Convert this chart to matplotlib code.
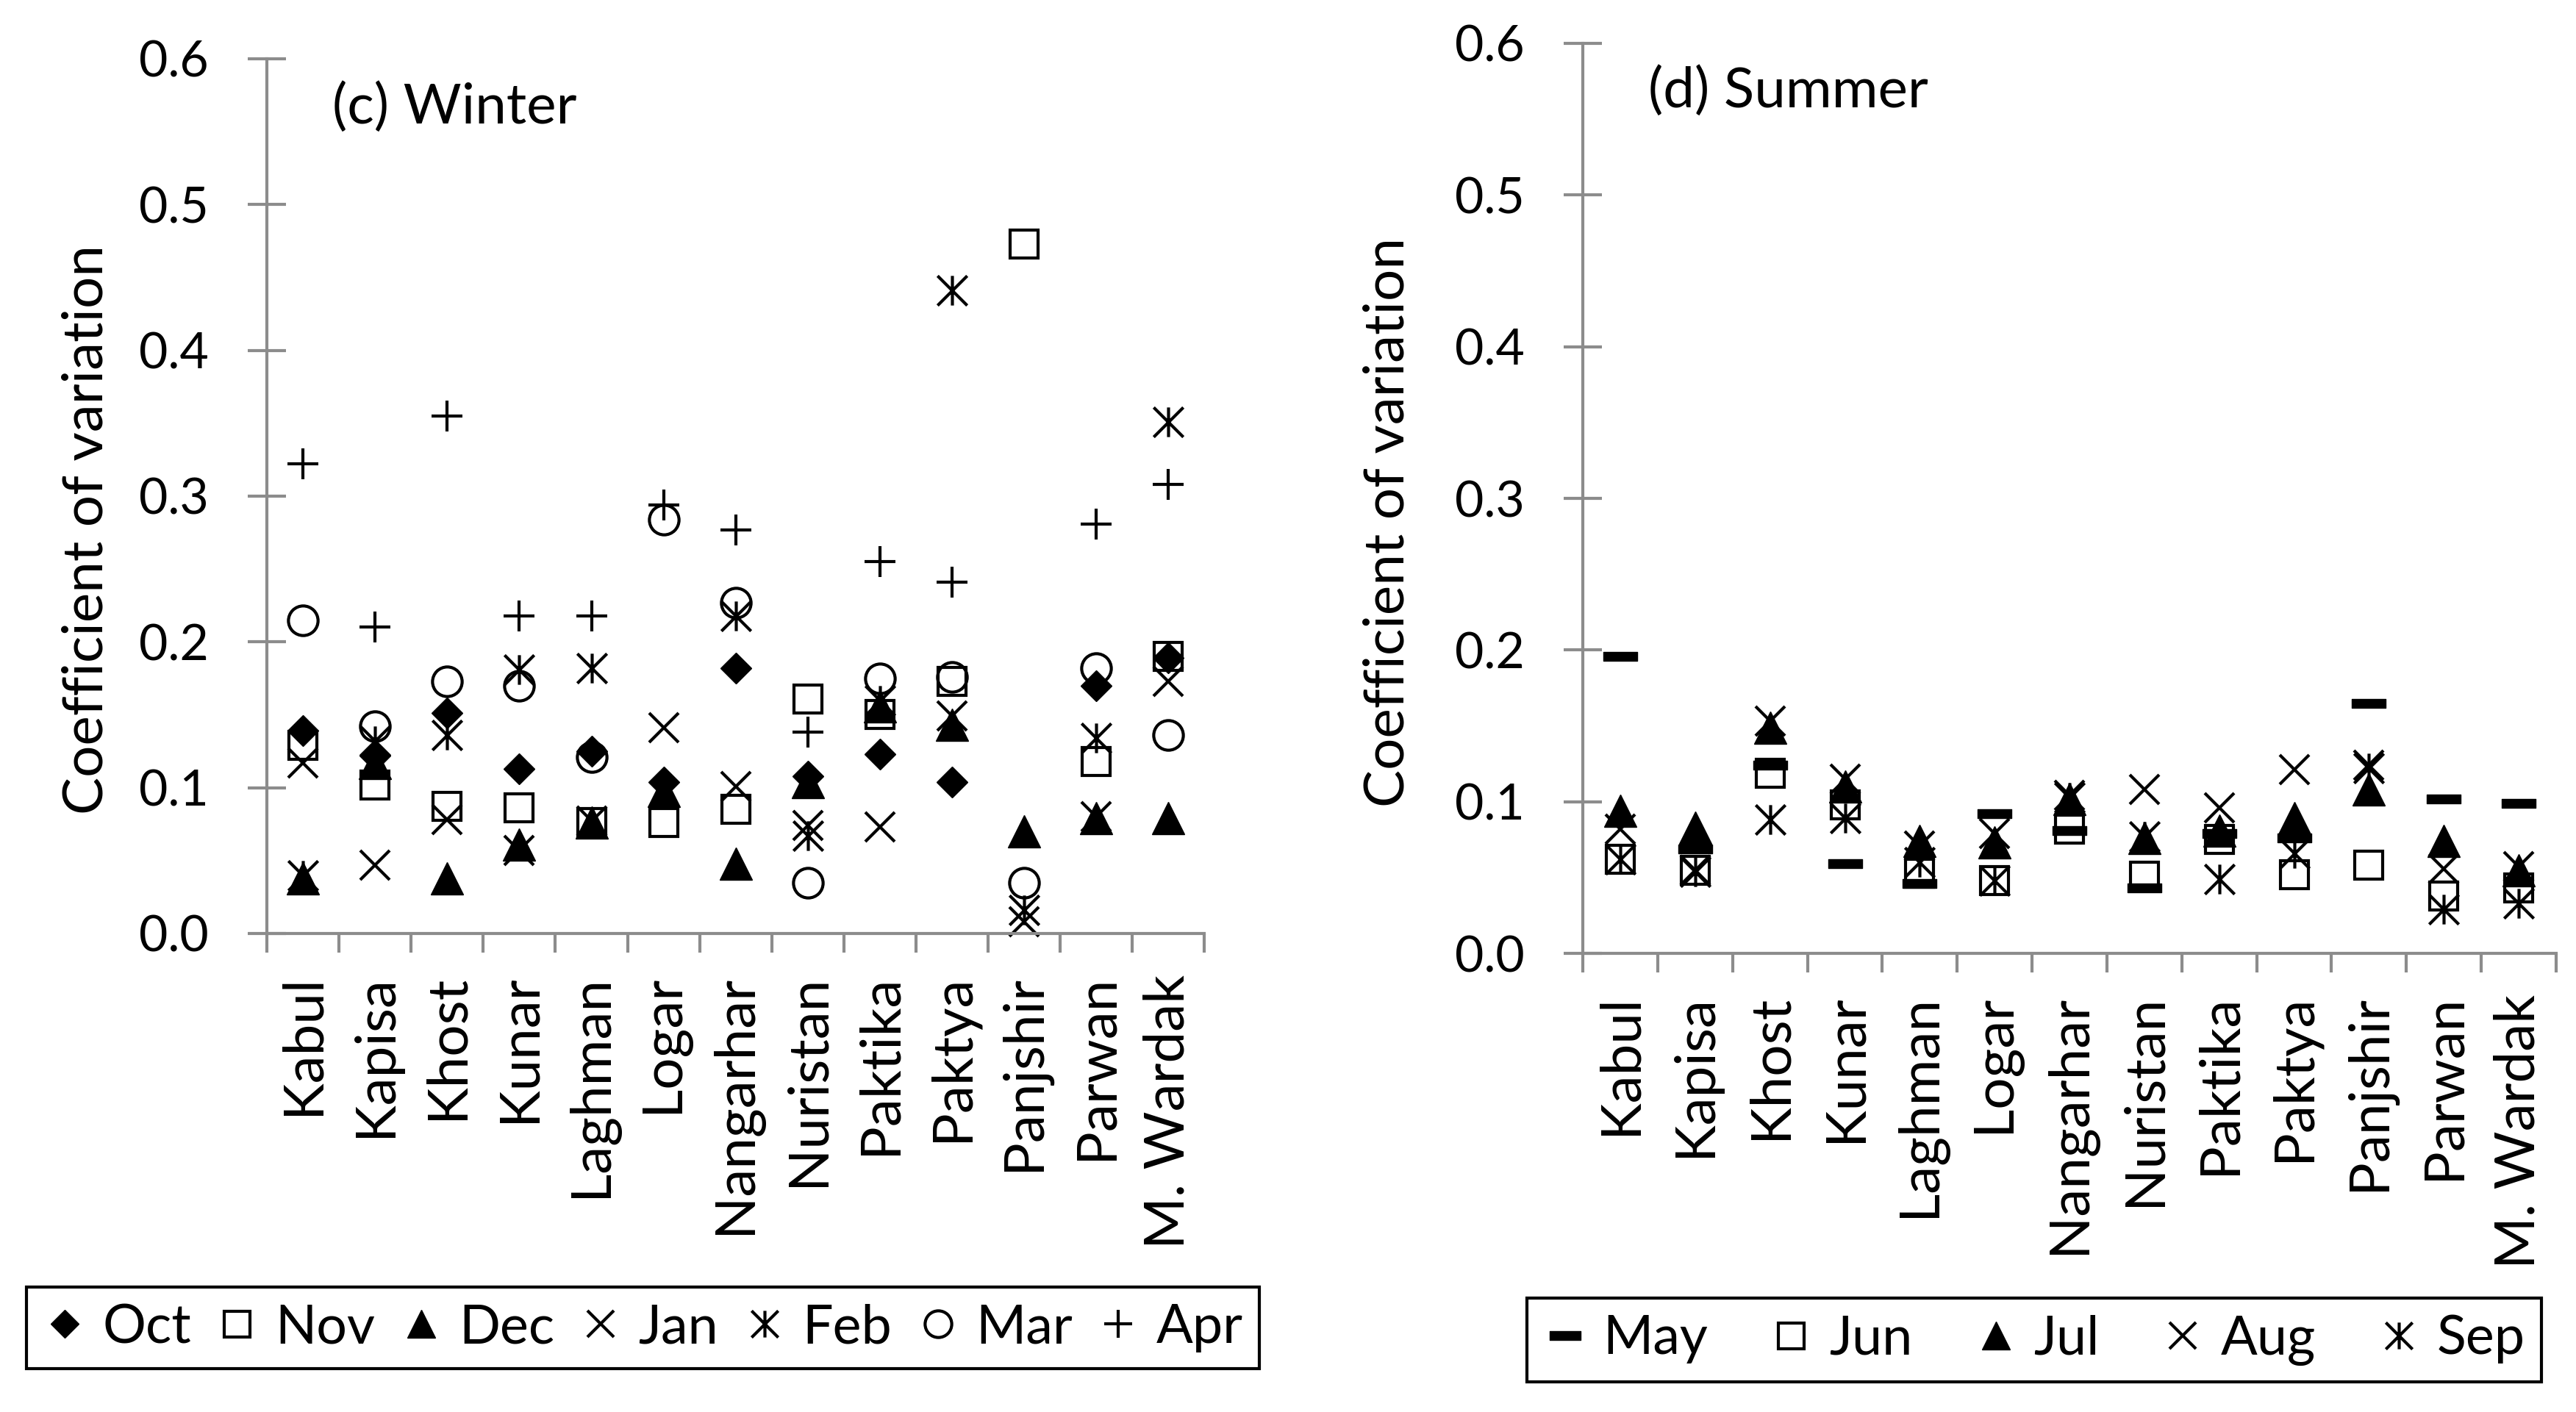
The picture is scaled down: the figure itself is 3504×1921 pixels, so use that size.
import numpy as np
import matplotlib
matplotlib.use("Agg")
import matplotlib.pyplot as plt
from matplotlib.path import Path

plt.rcParams['font.family'] = ['Lato', 'DejaVu Sans']

provinces = ["Kabul", "Kapisa", "Khost", "Kunar", "Laghman", "Logar", "Nangarhar",
             "Nuristan", "Paktika", "Paktya", "Panjshir", "Parwan", "M. Wardak"]

# winter coefficients of variation (Oct-Apr)
oct_cv = [0.139, 0.122, 0.151, 0.113, 0.125, 0.104, 0.182, 0.108, 0.123, 0.104, np.nan, 0.170, 0.189]
nov_cv = [0.129, 0.102, 0.087, 0.086, 0.076, 0.076, 0.085, 0.161, 0.150, 0.173, 0.473, 0.118, 0.190]
dec_cv = [0.038, 0.117, 0.038, 0.061, 0.076, 0.098, 0.048, 0.104, 0.156, 0.143, 0.070, 0.079, 0.079]
jan_cv = [0.117, 0.047, 0.078, 0.057, 0.077, 0.141, 0.101, 0.074, 0.073, 0.149, 0.008, 0.080, 0.173]
feb_cv = [0.040, 0.132, 0.136, 0.181, 0.182, np.nan, 0.218, 0.067, 0.160, 0.441, 0.016, 0.134, 0.351]
mar_cv = [0.215, 0.142, 0.173, 0.170, 0.121, 0.284, 0.227, 0.035, 0.175, 0.176, 0.035, 0.182, 0.136]
apr_cv = [0.322, 0.210, 0.355, 0.218, 0.218, 0.294, 0.277, 0.138, 0.255, 0.241, np.nan, 0.281, 0.308]

# summer coefficients of variation (May-Sep)
may_cv = [0.196, 0.069, 0.124, 0.059, 0.046, 0.092, 0.081, 0.043, 0.079, 0.076, 0.165, 0.102, 0.099]
jun_cv = [0.062, 0.055, 0.119, 0.098, 0.053, 0.048, 0.082, 0.051, 0.075, 0.052, 0.058, 0.038, 0.043]
jul_cv = [0.094, 0.083, 0.149, 0.110, 0.074, 0.073, 0.102, 0.076, 0.081, 0.089, 0.108, 0.074, 0.055]
aug_cv = [0.082, 0.055, 0.153, 0.115, 0.071, 0.079, 0.104, 0.108, 0.096, 0.121, 0.124, 0.056, 0.057]
sep_cv = [0.062, 0.054, 0.088, 0.089, 0.060, 0.048, 0.103, 0.077, 0.049, 0.066, 0.122, 0.029, 0.033]

winter_names = ["Oct", "Nov", "Dec", "Jan", "Feb", "Mar", "Apr"]
summer_names = ["May", "Jun", "Jul", "Aug", "Sep"]

GRAY = '#8c8c8c'
TICK_FS = 49
LABEL_FS = 55
LEG_FS = 53

# excel-like asterisk and dash markers
asterisk = Path([(-1, -1), (1, 1), (-1, 1), (1, -1), (0, -1), (0, 1)],
                [Path.MOVETO, Path.LINETO, Path.MOVETO, Path.LINETO, Path.MOVETO, Path.LINETO])
dash = Path([(-1, -0.28), (1, -0.28), (1, 0.28), (-1, 0.28), (-1, -0.28)],
            [Path.MOVETO, Path.LINETO, Path.LINETO, Path.LINETO, Path.CLOSEPOLY])

styles = {
    "Oct": dict(marker='D', ms=21, mfc='k', mec='k', mew=1),
    "Nov": dict(marker='s', ms=28, mfc='none', mec='k', mew=3),
    "Dec": dict(marker='^', ms=31, mfc='k', mec='k', mew=1),
    "Jan": dict(marker='x', ms=29, mfc='none', mec='k', mew=3),
    "Feb": dict(marker=asterisk, ms=29, mfc='none', mec='k', mew=3),
    "Mar": dict(marker='o', ms=29, mfc='none', mec='k', mew=3),
    "Apr": dict(marker='+', ms=30, mfc='none', mec='k', mew=3),
    "May": dict(marker=dash, ms=33, mfc='k', mec='k', mew=1),
    "Jun": dict(marker='s', ms=28, mfc='none', mec='k', mew=3),
    "Jul": dict(marker='^', ms=31, mfc='k', mec='k', mew=1),
    "Aug": dict(marker='x', ms=29, mfc='none', mec='k', mew=3),
    "Sep": dict(marker=asterisk, ms=29, mfc='none', mec='k', mew=3),
}


def style_axes(ax):
    n = len(provinces)
    ax.set_xlim(0, n)
    ax.set_ylim(0, 0.6)
    for s in ['top', 'right']:
        ax.spines[s].set_visible(False)
    for s in ['left', 'bottom']:
        ax.spines[s].set_color(GRAY)
        ax.spines[s].set_linewidth(3)
    ax.set_yticks(np.arange(0, 0.61, 0.1))
    ax.set_yticklabels(["%.1f" % v for v in np.arange(0, 0.61, 0.1)])
    ax.tick_params(axis='y', direction='inout', length=38, width=3, color=GRAY,
                   labelsize=TICK_FS, pad=38)
    ax.set_xticks(np.arange(0, n + 1))
    ax.set_xticklabels([])
    ax.tick_params(axis='x', which='major', direction='out', length=19, width=3, color=GRAY)
    ax.set_xticks(np.arange(n) + 0.5, minor=True)
    ax.set_xticklabels(provinces, minor=True, rotation=90)
    ax.tick_params(axis='x', which='minor', length=0, labelsize=LABEL_FS, pad=40)


fig = plt.figure(figsize=(35.05, 19.21), dpi=100)
ax1 = fig.add_axes([0.1036, 0.3389, 0.3638, 0.6195])
ax2 = fig.add_axes([0.6143, 0.3248, 0.3777, 0.6445])

x = np.arange(len(provinces)) + 0.5

winter = [oct_cv, nov_cv, dec_cv, jan_cv, feb_cv, mar_cv, apr_cv]
summer = [may_cv, jun_cv, jul_cv, aug_cv, sep_cv]

h1 = []
for name, vals in zip(winter_names, winter):
    line, = ax1.plot(x, vals, ls='none', clip_on=False, label=name, **styles[name])
    h1.append(line)
h2 = []
for name, vals in zip(summer_names, summer):
    line, = ax2.plot(x, vals, ls='none', clip_on=False, label=name, **styles[name])
    h2.append(line)

for ax in (ax1, ax2):
    style_axes(ax)
    ax.set_ylabel("Coefficient of variation", fontsize=LABEL_FS)

ax1.yaxis.set_label_coords(-0.165, 0.462)
ax2.yaxis.set_label_coords(-0.1745, 0.474)

fig.text(452 / 3505, 1 - 146 / 1921, "(c) Winter", fontsize=LABEL_FS, va='center', ha='left')
fig.text(2242 / 3505, 1 - 124 / 1921, "(d) Summer", fontsize=LABEL_FS, va='center', ha='left')

leg_kw = dict(loc='center', mode='expand', borderaxespad=0, fontsize=LEG_FS,
              handlelength=0.8, handletextpad=0.3, markerscale=0.9,
              fancybox=False, edgecolor='k', framealpha=1, borderpad=0.3)
leg1 = fig.legend(h1, winter_names, ncol=7,
                  bbox_to_anchor=(36 / 3505, 1 - 1873 / 1921, 1677 / 3505, 133 / 1921), **leg_kw)
leg2 = fig.legend(h2, summer_names, ncol=5,
                  bbox_to_anchor=(2077 / 3505, 1 - 1892 / 1921, 1380 / 3505, 138 / 1921), **leg_kw)
for leg in (leg1, leg2):
    leg.get_frame().set_linewidth(3)

fig.savefig("out.png", dpi=100)
